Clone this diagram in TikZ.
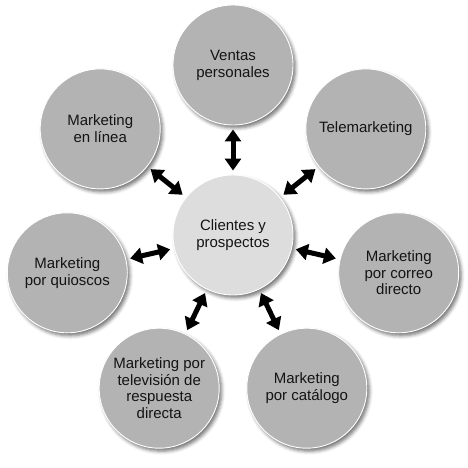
\documentclass[tikz,border=0pt]{standalone}
\usepackage{fontspec}
\setmainfont{Liberation Sans}
\usetikzlibrary{arrows.meta,shadows.blur}
\definecolor{outerfill}{HTML}{B3B3B3}
\definecolor{innerfill}{HTML}{DDDDDD}
\definecolor{txt}{HTML}{141414}
\begin{document}
\begin{tikzpicture}[x=1pt,y=-1pt,
  bubble/.style={circle, minimum size=120pt, inner sep=0pt, fill=outerfill,
    draw=white, line width=0.9pt, text=txt, align=center,
    font=\fontsize{15}{16.8}\selectfont,
    blur shadow={shadow xshift=2.5pt, shadow yshift=-3pt, shadow blur radius=3.5pt, shadow opacity=55}},
  hub/.style={bubble, fill=innerfill},
  link/.style={line width=5pt, black, {Triangle[width=16pt,length=12pt]}-{Triangle[width=16pt,length=12pt]},
    shorten <=4pt, shorten >=4pt}]
\useasboundingbox (0,0) rectangle (467,468);
\node[hub] (c) at (233,235) {Clientes y\\prospectos};
\node[bubble] (v) at (233,65) {Ventas\\personales};
\node[bubble] (t) at (365.8,128.9) {Telemarketing};
\node[bubble] (d) at (398.7,272.8) {Marketing\\por correo\\directo};
\node[bubble] (k) at (306.8,388.2) {Marketing\\por catálogo};
\node[bubble] (tv) at (159.2,388.2) {Marketing por\\televisión de\\respuesta\\directa};
\node[bubble] (q) at (67.3,272.8) {Marketing\\por quioscos};
\node[bubble] (l) at (100.2,128.9) {Marketing\\en línea};
\foreach \n in {v,t,d,k,tv,q,l} {\draw[link] (c) -- (\n);}
\end{tikzpicture}
\end{document}
